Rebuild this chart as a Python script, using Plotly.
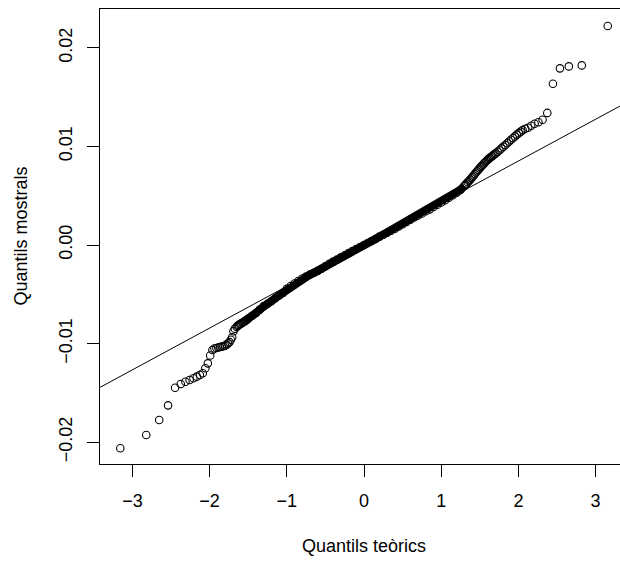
import plotly.graph_objects as go

# Theoretical quantiles (x) and sample quantiles (y)
theo_q = [
    -3.157, -2.821, -2.653, -2.538, -2.447, -2.374, -2.313, -2.259, -2.210, -2.166,
    -2.126, -2.089, -2.055, -2.023, -1.993, -1.964, -1.938, -1.912, -1.888, -1.865,
    -1.842, -1.821, -1.800, -1.781, -1.761, -1.743, -1.725, -1.708, -1.691, -1.674,
    -1.650, -1.635, -1.620, -1.605, -1.590, -1.575, -1.560, -1.545, -1.530, -1.515,
    -1.50, -1.45, -1.40, -1.35, -1.30, -1.25, -1.20, -1.15, -1.10, -1.05,
    -1.00, -0.95, -0.90, -0.85, -0.80, -0.75, -0.70, -0.65, -0.60, -0.55,
    -0.50, -0.45, -0.40, -0.35, -0.30, -0.25, -0.20, -0.15, -0.10, -0.05,
    0.00, 0.05, 0.10, 0.15, 0.20, 0.25, 0.30, 0.35, 0.40, 0.45,
    0.50, 0.55, 0.60, 0.65, 0.70, 0.75, 0.80, 0.85, 0.90, 0.95,
    1.00, 1.05, 1.10, 1.15, 1.20, 1.25, 1.30,
    1.315, 1.330, 1.345, 1.360, 1.375, 1.390, 1.405, 1.420, 1.435, 1.450,
    1.465, 1.480, 1.495, 1.510, 1.525, 1.540, 1.555, 1.570, 1.585, 1.600,
    1.615, 1.630, 1.645, 1.660, 1.675, 1.690, 1.705, 1.730, 1.755, 1.780,
    1.805, 1.830, 1.855, 1.880, 1.905, 1.930, 1.955, 1.980, 2.005, 2.030,
    2.055, 2.089, 2.126, 2.166, 2.210, 2.259, 2.313, 2.374, 2.447, 2.538,
    2.653, 2.821, 3.157,
]
samp_q = [
    -0.02062, -0.01927, -0.01775, -0.01626, -0.01447, -0.01410, -0.01386, -0.01369, -0.01352, -0.01335,
    -0.01318, -0.01300, -0.01250, -0.01200, -0.01120, -0.01065, -0.01050, -0.01045, -0.01040, -0.01035,
    -0.01030, -0.01027, -0.01022, -0.01010, -0.00998, -0.00985, -0.00960, -0.00935, -0.00875, -0.00850,
    -0.00830, -0.00820, -0.00810, -0.00802, -0.00795, -0.00788, -0.00780, -0.00772, -0.00765, -0.00757,
    -0.00745, -0.00718, -0.00690, -0.00655, -0.00620, -0.00595, -0.00570, -0.00540, -0.00512, -0.00485,
    -0.00445, -0.00415, -0.00390, -0.00365, -0.00340, -0.00320, -0.00300, -0.00282, -0.00262, -0.00240,
    -0.00215, -0.00190, -0.00168, -0.00148, -0.00125, -0.00103, -0.00082, -0.00060, -0.00040, -0.00020,
    0.00000, 0.00020, 0.00040, 0.00062, 0.00085, 0.00105, 0.00125, 0.00145, 0.00165, 0.00188,
    0.00210, 0.00235, 0.00258, 0.00280, 0.00300, 0.00320, 0.00342, 0.00362, 0.00385, 0.00408,
    0.00432, 0.00455, 0.00480, 0.00505, 0.00530, 0.00560, 0.00600,
    0.00612, 0.00625, 0.00638, 0.00650, 0.00663, 0.00678, 0.00692, 0.00705, 0.00720, 0.00735,
    0.00748, 0.00762, 0.00776, 0.00790, 0.00803, 0.00815, 0.00828, 0.00840, 0.00852, 0.00864,
    0.00874, 0.00884, 0.00893, 0.00902, 0.00912, 0.00922, 0.00930, 0.00945, 0.00962, 0.00980,
    0.00998, 0.01015, 0.01032, 0.01050, 0.01068, 0.01085, 0.01102, 0.01120, 0.01135, 0.01150,
    0.01165, 0.01180, 0.01190, 0.01210, 0.01230, 0.01245, 0.01270, 0.01340, 0.01636, 0.01792,
    0.01812, 0.01822, 0.02221,
]

# Reference line (qqline): intercept and slope
line_intercept = 0.00005
line_slope = 0.004236

x_ticks = [-3, -2, -1, 0, 1, 2, 3]
x_ticktext = ["\u22123", "\u22122", "\u22121", "0", "1", "2", "3"]
y_ticks = [-0.02, -0.01, 0.0, 0.01, 0.02]
y_ticktext = ["\u22120.02", "\u22120.01", "0.00", "0.01", "0.02"]

x_range = [-3.42, 3.316]
y_range = [-0.02221, 0.02394]

FONT = "Liberation Sans, Arial, Helvetica, sans-serif"

fig = go.Figure()

# dense middle part drawn also as a thick stroke so it looks solid
band_x = [x for x in theo_q if -1.55 <= x <= 1.30]
band_y = [y for x, y in zip(theo_q, samp_q) if -1.55 <= x <= 1.30]
fig.add_trace(go.Scatter(x=band_x, y=band_y, mode="lines",
                         line=dict(color="black", width=8), hoverinfo="skip"))

fig.add_trace(go.Scatter(
    x=theo_q, y=samp_q, mode="markers",
    marker=dict(symbol="circle-open", size=7.5, color="black", line=dict(width=1.1, color="black")),
))

fig.add_trace(go.Scatter(
    x=x_range, y=[line_intercept + line_slope * v for v in x_range], mode="lines",
    line=dict(color="black", width=1), hoverinfo="skip",
))

fig.update_layout(
    width=620, height=561,
    margin=dict(l=100, r=0, t=9, b=97),
    plot_bgcolor="white", paper_bgcolor="white",
    showlegend=False,
    font=dict(family=FONT, size=18, color="black"),
)
fig.update_xaxes(
    range=x_range, tickvals=x_ticks, ticktext=x_ticktext,
    ticks="outside", ticklen=12, tickwidth=1, tickcolor="black",
    showline=True, linecolor="black", linewidth=1, mirror=True,
    showgrid=False, zeroline=False, ticklabelstandoff=8,
    tickfont=dict(family=FONT, size=18, color="black"),
)
fig.update_yaxes(
    range=y_range, tickvals=y_ticks, ticktext=y_ticktext, tickangle=-90,
    ticks="outside", ticklen=12, tickwidth=1, tickcolor="black",
    showline=True, linecolor="black", linewidth=1, mirror=False,
    showgrid=False, zeroline=False, ticklabelstandoff=8,
    tickfont=dict(family=FONT, size=18, color="black"),
)

fig.add_annotation(text="Quantils teòrics", x=0, xref="x",
                   y=-(546 - 464) / 455, yref="paper", yanchor="middle",
                   showarrow=False, font=dict(family=FONT, size=18, color="black"))
fig.add_annotation(text="Quantils mostrals", x=-(100 - 20) / 520, xref="paper", xanchor="center",
                   y=0.5, yref="paper", yanchor="middle",
                   showarrow=False, textangle=-90, font=dict(family=FONT, size=18, color="black"))

fig.write_html(
    "out.html",
    config={"displayModeBar": False, "staticPlot": True},
    post_script="document.body.style.margin='0';document.body.style.overflow='hidden';",
)
